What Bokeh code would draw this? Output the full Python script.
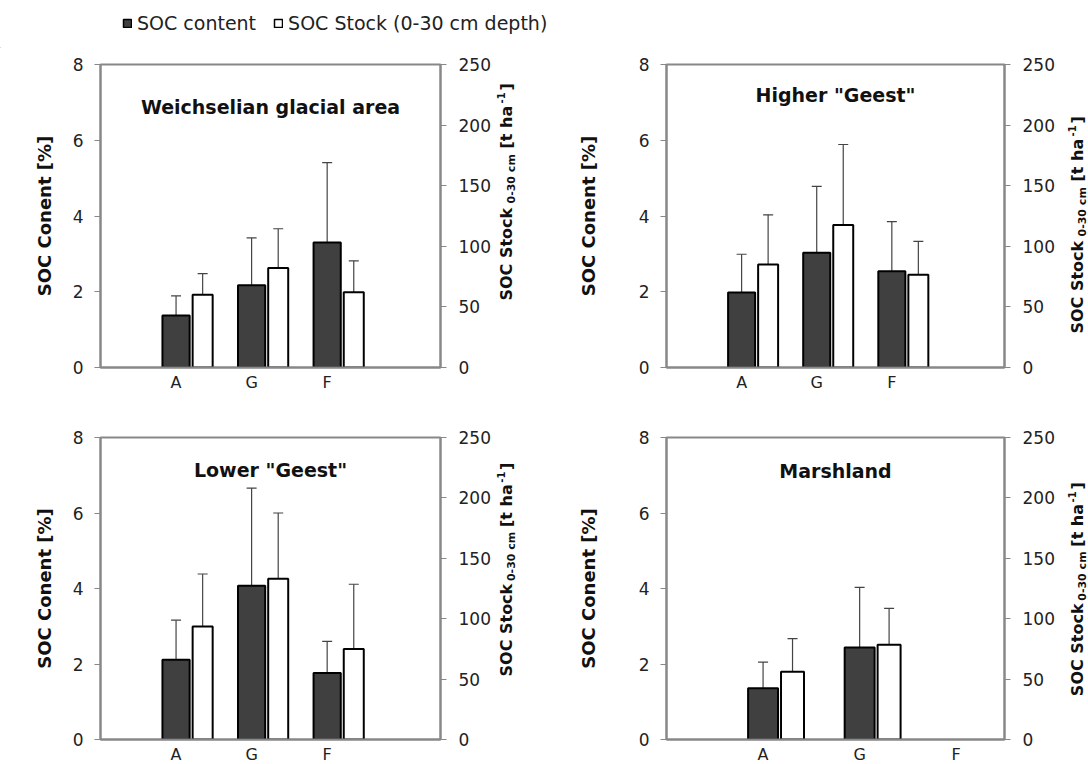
import math
from bokeh.plotting import figure
from bokeh.models import (Range1d, LinearAxis, FixedTicker, ColumnDataSource,
                          Whisker, TeeHead, Label, Legend, LegendItem)
from bokeh.core.properties import value
from bokeh.layouts import column, row
from bokeh.embed import file_html
from bokeh.resources import INLINE

# ---------------- data ----------------
categories = ["A", "G", "F"]
titles = ['Weichselian glacial area', 'Higher "Geest"', 'Lower "Geest"', 'Marshland']
series_names = ["SOC content", "SOC Stock (0-30 cm depth)"]

weich_content = [1.37, 2.17, 3.30]
weich_content_err = [0.52, 1.25, 2.11]
weich_stock = [60.0, 82.0, 62.0]
weich_stock_err = [17.5, 32.5, 26.0]

higher_content = [1.98, 3.03, 2.54]
higher_content_err = [1.01, 1.75, 1.31]
higher_stock = [85.0, 117.5, 76.5]
higher_stock_err = [41.0, 66.5, 27.5]

lower_content = [2.11, 4.07, 1.76]
lower_content_err = [1.05, 2.59, 0.84]
lower_stock = [93.5, 133.0, 75.0]
lower_stock_err = [43.5, 54.5, 53.5]

marsh_content = [1.36, 2.44]
marsh_content_err = [0.69, 1.59]
marsh_stock = [56.0, 78.5]
marsh_stock_err = [27.5, 30.0]

left_ticks = [0, 2, 4, 6, 8]
right_ticks = [0, 50, 100, 150, 200, 250]

FONT = "DejaVu Sans"
DARK = "#404040"
GRAY = "#888888"
ERR = "#444444"
TXT = "#111111"

panels = [
    dict(title=titles[0], content=weich_content, cerr=weich_content_err,
         stock=weich_stock, serr=weich_stock_err,
         fw=340, fh=303, bl=100, br=52, bt=16, bb=37, xend=4.5,
         dw=0.36, ww=0.265, off=0.352, tdy=42, lstand=15,
         labw=60, labx=13, rstart=67),
    dict(title=titles[1], content=higher_content, cerr=higher_content_err,
         stock=higher_stock, serr=higher_stock_err,
         fw=338, fh=303, bl=113, br=52, bt=16, bb=37, xend=4.5,
         dw=0.36, ww=0.266, off=0.353, tdy=30, lstand=37,
         labw=33, labx=20, rstart=34),
    dict(title=titles[2], content=lower_content, cerr=lower_content_err,
         stock=lower_stock, serr=lower_stock_err,
         fw=340, fh=302, bl=100, br=52, bt=33, bb=22, xend=4.5,
         dw=0.36, ww=0.265, off=0.352, tdy=32, lstand=15,
         labw=60, labx=13, rstart=59),
    dict(title=titles[3], content=marsh_content, cerr=marsh_content_err,
         stock=marsh_stock, serr=marsh_stock_err,
         fw=338, fh=302, bl=113, br=52, bt=33, bb=22, xend=3.5,
         dw=0.31, ww=0.238, off=0.305, tdy=33, lstand=37,
         labw=33, labx=20, rstart=39),
]


def make_panel(cfg):
    p = figure(frame_width=cfg["fw"], frame_height=cfg["fh"],
               x_range=Range1d(0, cfg["xend"]), y_range=Range1d(0, 8),
               output_backend="svg", toolbar_location=None,
               min_border_left=cfg["bl"], min_border_right=cfg["br"],
               min_border_top=cfg["bt"], min_border_bottom=cfg["bb"])
    p.extra_y_ranges = {"stock": Range1d(0, 250)}
    p.grid.visible = False
    p.background_fill_color = "white"
    p.border_fill_color = "white"
    p.outline_line_color = GRAY
    p.outline_line_width = 2

    n = len(cfg["content"])
    xs = [i + 1 for i in range(n)]
    xw = [x + cfg["off"] for x in xs]

    src_c = ColumnDataSource(dict(
        x=xs, top=cfg["content"],
        upper=[v + e for v, e in zip(cfg["content"], cfg["cerr"])],
        lower=[v - e for v, e in zip(cfg["content"], cfg["cerr"])]))
    src_s = ColumnDataSource(dict(
        x=xw, top=cfg["stock"],
        upper=[v + e for v, e in zip(cfg["stock"], cfg["serr"])],
        lower=[v - e for v, e in zip(cfg["stock"], cfg["serr"])]))

    p.vbar(x="x", top="top", bottom=0, width=cfg["dw"], source=src_c,
           fill_color=DARK, line_color="black", line_width=2)
    p.vbar(x="x", top="top", bottom=0, width=cfg["ww"], source=src_s,
           fill_color="white", line_color="black", line_width=2,
           y_range_name="stock")

    for src, rng in ((src_c, "default"), (src_s, "stock")):
        kw = {} if rng == "default" else {"y_range_name": "stock"}
        w = Whisker(source=src, base="x", upper="upper", lower="lower",
                    dimension="height", line_color=ERR, line_width=1.2,
                    upper_head=TeeHead(size=10, line_color=ERR, line_width=1.2),
                    lower_head=TeeHead(size=10, line_color=ERR, line_width=1.2), **kw)
        p.add_layout(w)

    # x axis
    xa = p.xaxis[0]
    xa.ticker = FixedTicker(ticks=[1, 2, 3])
    xa.major_label_overrides = {1: categories[0], 2: categories[1], 3: categories[2]}
    xa.major_tick_out = 0
    xa.major_tick_in = 0
    xa.minor_tick_out = 0
    xa.minor_tick_in = 0
    xa.axis_line_color = GRAY
    xa.axis_line_width = 2
    xa.major_label_text_font = FONT
    xa.major_label_text_font_size = "16px"
    xa.major_label_text_color = "#222222"
    xa.major_label_standoff = 5

    # left axis
    ya = p.yaxis[0]
    ya.ticker = FixedTicker(ticks=left_ticks)
    ya.major_tick_out = 6
    ya.major_tick_in = 0
    ya.minor_tick_out = 0
    ya.minor_tick_in = 0
    ya.major_tick_line_color = GRAY
    ya.axis_line_color = GRAY
    ya.axis_line_width = 2
    ya.major_label_text_font = FONT
    ya.major_label_text_font_size = "17px"
    ya.major_label_text_color = "#222222"
    ya.major_label_standoff = 11
    ya.axis_label = "SOC Conent [%]"
    ya.axis_label_text_font = FONT
    ya.axis_label_text_font_style = "bold"
    ya.axis_label_text_font_size = "18px"
    ya.axis_label_text_color = TXT
    ya.axis_label_standoff = cfg["lstand"]

    # right axis
    ra = LinearAxis(y_range_name="stock", ticker=FixedTicker(ticks=right_ticks))
    ra.major_tick_out = 6
    ra.major_tick_in = 0
    ra.minor_tick_out = 0
    ra.minor_tick_in = 0
    ra.major_tick_line_color = GRAY
    ra.axis_line_color = GRAY
    ra.axis_line_width = 2
    ra.major_label_text_font = FONT
    ra.major_label_text_font_size = "17px"
    ra.major_label_text_color = "#222222"
    ra.major_label_standoff = 12
    p.add_layout(ra, "right")

    # panel title (inside the plot area)
    p.add_layout(Label(x=cfg["fw"] / 2, y=cfg["fh"] - cfg["tdy"], x_units="screen", y_units="screen",
                       text=cfg["title"], text_align="center", text_baseline="middle",
                       text_font=FONT, text_font_style="bold", text_font_size="19px",
                       text_color=TXT))
    return p


def make_right_title(cfg):
    """Narrow strip (frame aligned with the panel's frame) holding the
    right-axis title with its subscript and superscript."""
    w = cfg["labw"]
    fh = cfg["fh"]
    q = figure(width=w, height=cfg["bt"] + fh + cfg["bb"],
               x_range=Range1d(0, w), y_range=Range1d(0, fh),
               output_backend="svg", toolbar_location=None,
               x_axis_location=None, y_axis_location=None,
               min_border_left=0, min_border_right=0,
               min_border_top=cfg["bt"], min_border_bottom=cfg["bb"])
    q.grid.visible = False
    q.outline_line_color = None
    q.background_fill_color = "white"
    q.border_fill_color = "white"
    base = cfg["rstart"]
    pieces = [
        ("SOC Stock", 16, 0, 0),
        ("0-30 cm", 11, 97, 5),
        ("[t ha", 16, 152, 0),
        ("-1", 10, 197, -6),
        ("]", 16, 210, 0),
    ]
    for txt, size, dy, dx in pieces:
        q.text(x=[cfg["labx"] + dx], y=[base + dy], text=[txt], angle=math.pi / 2,
               text_align="left", text_baseline="middle", text_font=value(FONT),
               text_font_style="bold", text_font_size=f"{size}px", text_color=TXT)
    return q


def make_legend_strip():
    L = figure(width=1088, height=48, x_range=Range1d(0, 1088), y_range=Range1d(0, 48),
               output_backend="svg", toolbar_location=None,
               x_axis_location=None, y_axis_location=None,
               min_border_left=0, min_border_right=0, min_border_top=0, min_border_bottom=0)
    L.grid.visible = False
    L.outline_line_color = None
    L.background_fill_color = "white"
    L.border_fill_color = "white"
    # one far off-canvas sample each so the legend can draw its swatch
    r1 = L.vbar(x=[-5000], bottom=[-300], top=[-200], width=1,
                fill_color=DARK, line_color="black", line_width=1.5)
    r2 = L.vbar(x=[-5000], bottom=[-300], top=[-200], width=1,
                fill_color="white", line_color="black", line_width=1.5)
    leg = Legend(items=[LegendItem(label=series_names[0], renderers=[r1]),
                        LegendItem(label=series_names[1], renderers=[r2])],
                 orientation="horizontal", location=(122, 14),
                 border_line_color=None, background_fill_alpha=0,
                 label_text_font=FONT, label_text_font_size="19px",
                 label_text_color="#222222",
                 glyph_width=10, glyph_height=10, label_standoff=5,
                 spacing=17, padding=0, margin=0)
    L.add_layout(leg)
    return L


figs = [make_panel(c) for c in panels]
strips = [make_right_title(c) for c in panels]
legend_strip = make_legend_strip()

layout = column(legend_strip,
                row(figs[0], strips[0], figs[1], strips[1]),
                row(figs[2], strips[2], figs[3], strips[3]))

open("out.html", "w").write(file_html(layout, INLINE))
